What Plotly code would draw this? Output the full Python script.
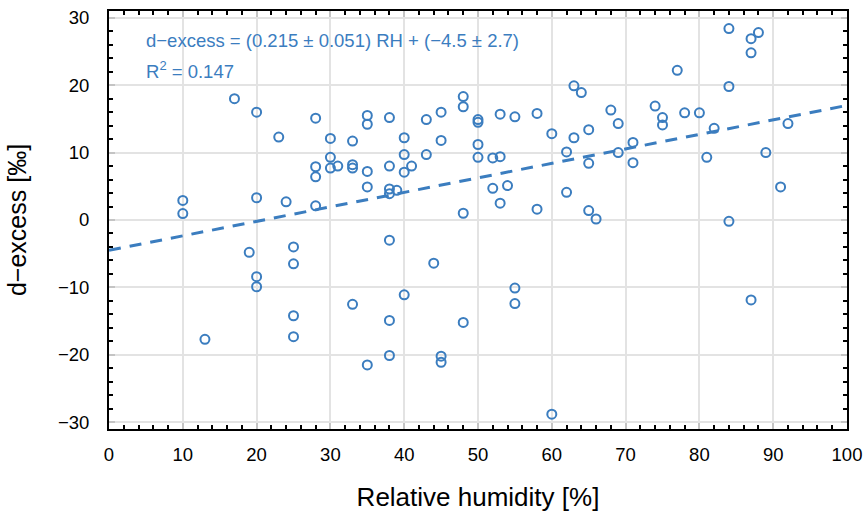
import plotly.graph_objects as go

rh = [10, 10, 13, 17, 19, 20, 20, 20, 20, 23, 24, 25, 25, 25, 25,
      28, 28, 28, 28, 30, 30, 30, 31, 33, 33, 33, 33,
      35, 35, 35, 35, 35, 38, 38, 38, 38, 38, 38, 38, 39,
      40, 40, 40, 40, 41, 43, 43, 44, 45, 45, 45, 45,
      48, 48, 48, 48, 50, 50, 50, 50, 52, 52, 53, 53, 53, 54,
      55, 55, 55, 58, 58, 60, 60, 62, 62, 63, 63, 64,
      65, 65, 65, 66, 68, 69, 69, 71, 71, 74, 75, 75, 77, 78, 80,
      81, 82, 84, 84, 84, 87, 87, 87, 88, 89, 91, 92]
dex = [2.9, 0.95, -17.7, 18.0, -4.8, 16.0, 3.3, -8.4, -9.9, 12.3, 2.7, -4.0, -6.5, -14.2, -17.3,
       15.1, 7.9, 6.4, 2.1, 12.1, 9.3, 7.7, 8.0, 11.7, 8.2, 7.7, -12.5,
       15.5, 14.2, 7.2, 4.9, -21.5, 15.2, 8.0, 4.6, 3.9, -3.0, -14.9, -20.1, 4.4,
       12.2, 9.7, 7.1, -11.1, 8.0, 14.9, 9.7, -6.4, 16.0, 11.8, -20.2, -21.1,
       18.3, 16.8, 1.0, -15.2, 14.9, 14.5, 11.2, 9.3, 9.2, 4.7, 15.7, 9.4, 2.5, 5.1,
       15.3, -10.1, -12.4, 15.8, 1.6, 12.8, -28.8, 10.1, 4.1, 19.9, 12.2, 18.9,
       13.4, 8.4, 1.4, 0.15, 16.3, 14.3, 10.0, 11.5, 8.5, 16.9, 15.2, 14.1, 22.2, 15.9, 15.9,
       9.3, 13.6, 28.4, 19.8, -0.2, 26.9, 24.8, -11.85, 27.8, 10.0, 4.9, 14.3]

slope = 0.215
intercept = -4.5
fit_x = [0, 100]
fit_y = [intercept + slope * v for v in fit_x]

x_ticks = [0, 10, 20, 30, 40, 50, 60, 70, 80, 90, 100]
y_ticks = [-30, -20, -10, 0, 10, 20, 30]

blue = "#3b7dbf"
font = "Liberation Sans, Arial, Helvetica, sans-serif"

fig = go.Figure()
fig.add_trace(go.Scatter(x=fit_x, y=fit_y, mode="lines",
                         line=dict(color=blue, width=3, dash="12px,9px"),
                         hoverinfo="skip", showlegend=False))
fig.add_trace(go.Scatter(x=rh, y=dex, mode="markers",
                         marker=dict(symbol="circle-open", size=9, color=blue,
                                     line=dict(width=2, color=blue)),
                         showlegend=False))

axis_common = dict(
    showline=True, linecolor="black", linewidth=2, mirror="ticks",
    ticks="inside", ticklen=6, tickwidth=1.5, tickcolor="#c4c4c4",
    showgrid=True, gridcolor="#e3e3e3", gridwidth=1.8,
    zeroline=False, automargin=False,
    tickfont=dict(family=font, size=18.5, color="black"),
    minor=dict(dtick=2, ticks="inside", ticklen=4, tickwidth=2,
               tickcolor="black", showgrid=False),
)

fig.update_layout(
    width=867, height=518,
    margin=dict(l=109, r=20, t=11, b=89),
    paper_bgcolor="white", plot_bgcolor="white",
    font=dict(family=font, color="black"),
    xaxis=dict(range=[0, 100], tickvals=x_ticks, ticklabelstandoff=8,
               title=dict(text="Relative humidity [%]", font=dict(size=26), standoff=24),
               **axis_common),
    yaxis=dict(range=[-31, 31], tickvals=y_ticks, ticklabelstandoff=14,
               title=dict(text="d−excess [‰]", font=dict(size=25), standoff=24),
               **axis_common),
    annotations=[
        dict(x=0.048, y=0.9306, xref="paper", yref="paper", xanchor="left", yanchor="middle",
             text="d−excess = (0.215 ± 0.051) RH + (−4.5 ± 2.7)", showarrow=False,
             font=dict(family=font, size=18.5, color=blue)),
        dict(x=0.048, y=0.859, xref="paper", yref="paper", xanchor="left", yanchor="middle",
             text="R<sup>2</sup> = 0.147", showarrow=False,
             font=dict(family=font, size=18.5, color=blue)),
    ],
)

fig.write_html("out.html")
